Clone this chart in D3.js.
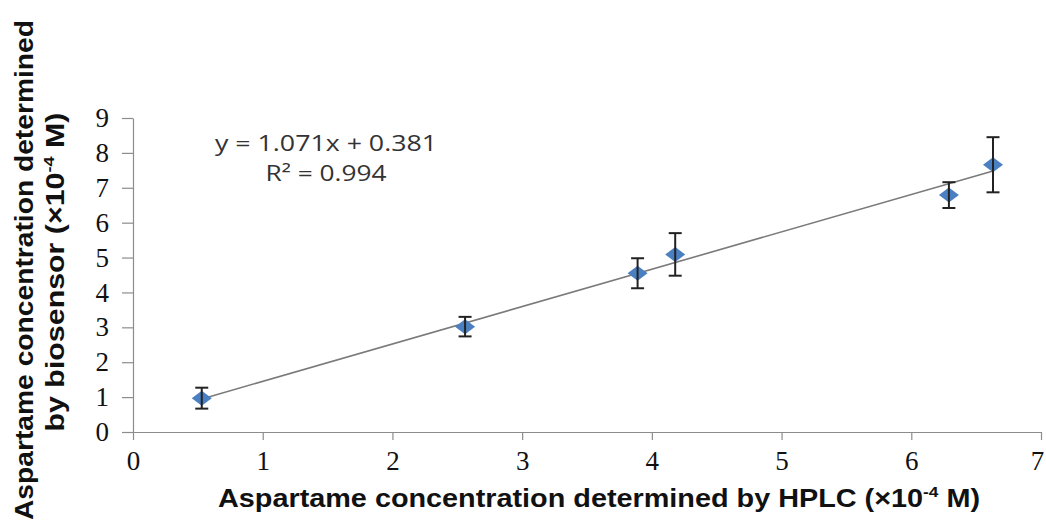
<!DOCTYPE html>
<html>
<head>
<meta charset="utf-8">
<script src="https://cdn.jsdelivr.net/npm/d3@7"></script>
<style>
  html, body { margin: 0; padding: 0; background: #fff; }
  svg { display: block; }
</style>
</head>
<body>
<svg id="chart" width="1046" height="524"></svg>
<script>
// ---- data ----
const hplc      = [0.53, 2.56, 3.89, 4.18, 6.29, 6.63];
const biosensor = [0.97, 3.02, 4.55, 5.09, 6.79, 7.66];
const errors    = [0.30, 0.28, 0.43, 0.61, 0.37, 0.79];
const xTicks = [0, 1, 2, 3, 4, 5, 6, 7];
const yTicks = [0, 1, 2, 3, 4, 5, 6, 7, 8, 9];
const fitSlope = 1.071;
const fitIntercept = 0.381;
const eqLabel = "y = 1.071x + 0.381";
const r2Label = "R² = 0.994";
const xTitle = "Aspartame concentration determined by HPLC (×10";
const yTitle1 = "Aspartame concentration determined";
const yTitle2 = "by biosensor (×10";

const svg = d3.select("#chart");
const x = d3.scaleLinear().domain([0, 7]).range([133, 1041]);
const y = d3.scaleLinear().domain([0, 9]).range([432, 118]);

const axisColor = "#8c8c8c";
const serif = '"Liberation Serif", "DejaVu Serif", "Times New Roman", serif';

// x axis
const gx = svg.append("g").attr("transform", `translate(0,${y(0)})`)
  .call(d3.axisBottom(x).tickValues(xTicks).tickSize(8).tickSizeOuter(0).tickFormat(d3.format("d")));
gx.attr("font-family", null).attr("font-size", null);
gx.select(".domain").attr("stroke", axisColor).attr("stroke-width", 1.2);
gx.selectAll(".tick line").attr("stroke", axisColor).attr("stroke-width", 1.2);
gx.selectAll(".tick text")
  .style("font-family", serif).style("font-size", "27px")
  .attr("y", 38).attr("dy", null).attr("fill", "#111")
  .attr("x", d => d === xTicks[xTicks.length - 1] ? -4 : 0);

// y axis
const gy = svg.append("g").attr("transform", `translate(${x(0)},0)`)
  .call(d3.axisLeft(y).tickValues(yTicks).tickSize(11).tickSizeOuter(0).tickPadding(13).tickFormat(d3.format("d")));
gy.attr("font-family", null).attr("font-size", null);
gy.select(".domain").attr("stroke", axisColor).attr("stroke-width", 1.2);
gy.selectAll(".tick line").attr("stroke", axisColor).attr("stroke-width", 1.2);
gy.selectAll(".tick text")
  .style("font-family", serif).style("font-size", "27px").attr("fill", "#111");

// trendline
const xMin = d3.min(hplc), xMax = d3.max(hplc);
svg.append("line")
  .attr("x1", x(xMin)).attr("y1", y(fitSlope * xMin + fitIntercept))
  .attr("x2", x(xMax)).attr("y2", y(fitSlope * xMax + fitIntercept))
  .attr("stroke", "#7a7a7a").attr("stroke-width", 1.6);

const pts = hplc.map((d, i) => ({ x: d, y: biosensor[i], e: errors[i] }));

// markers (diamonds)
const dw = 10, dh = 7.5;
svg.append("g").selectAll("path").data(pts).join("path")
  .attr("d", d => {
    const cx = x(d.x), cy = y(d.y);
    return `M${cx - dw},${cy}L${cx},${cy - dh}L${cx + dw},${cy}L${cx},${cy + dh}Z`;
  })
  .attr("fill", "#4a7fc1");

// error bars
const eb = svg.append("g").attr("stroke", "#222").attr("stroke-width", 2);
pts.forEach(d => {
  const cx = x(d.x);
  eb.append("line").attr("x1", cx).attr("x2", cx).attr("y1", y(d.y + d.e)).attr("y2", y(d.y - d.e));
  eb.append("line").attr("x1", cx - 6.5).attr("x2", cx + 6.5).attr("y1", y(d.y + d.e)).attr("y2", y(d.y + d.e));
  eb.append("line").attr("x1", cx - 6.5).attr("x2", cx + 6.5).attr("y1", y(d.y - d.e)).attr("y2", y(d.y - d.e));
});

// equation
const eqFont = '"Open Sans", "Noto Sans", sans-serif';
svg.append("text").attr("x", 326).attr("y", 151).attr("text-anchor", "middle")
  .style("font-family", eqFont).style("font-size", "22px").attr("fill", "#333")
  .attr("textLength", 222).attr("lengthAdjust", "spacingAndGlyphs")
  .text(eqLabel);
svg.append("text").attr("x", 326).attr("y", 181).attr("text-anchor", "middle")
  .style("font-family", eqFont).style("font-size", "22px").attr("fill", "#333")
  .attr("textLength", 121).attr("lengthAdjust", "spacingAndGlyphs")
  .text(r2Label);

// axis titles
const titleFont = '"Liberation Sans", Arial, sans-serif';
const xt = svg.append("text").attr("x", 599).attr("y", 507).attr("text-anchor", "middle")
  .style("font-family", titleFont).style("font-weight", "bold").style("font-size", "25px").attr("fill", "#111");
xt.append("tspan").text(xTitle);
xt.append("tspan").style("font-size", "15px").attr("dy", -10).text("-4");
xt.append("tspan").attr("dy", 10).text(" M)");
xt.attr("textLength", 762).attr("lengthAdjust", "spacingAndGlyphs");

svg.append("text").attr("transform", "translate(33,270) rotate(-90)")
  .attr("text-anchor", "middle").style("font-family", titleFont).style("font-weight", "bold")
  .style("font-size", "25px").attr("fill", "#111")
  .attr("textLength", 500).attr("lengthAdjust", "spacingAndGlyphs")
  .text(yTitle1);
const yt2 = svg.append("text").attr("transform", "translate(64,272) rotate(-90)")
  .attr("text-anchor", "middle").style("font-family", titleFont).style("font-weight", "bold")
  .style("font-size", "25px").attr("fill", "#111");
yt2.append("tspan").text(yTitle2);
yt2.append("tspan").style("font-size", "15px").attr("dy", -10).text("-4");
yt2.append("tspan").attr("dy", 10).text(" M)");
yt2.attr("textLength", 319).attr("lengthAdjust", "spacingAndGlyphs");
</script>
</body>
</html>
